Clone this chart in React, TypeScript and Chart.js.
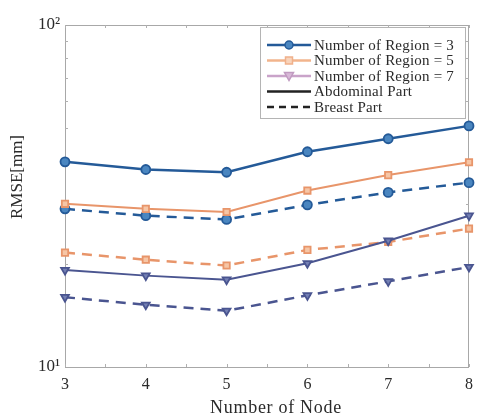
import React, { useEffect, useRef } from "react";
import { Chart, registerables } from "chart.js";

Chart.register(...registerables);

// ---- data ----
const nodeCounts = [3, 4, 5, 6, 7, 8];
const region3Abdominal = [39.8, 37.8, 37.1, 42.6, 46.5, 50.7];
const region3Breast = [29.0, 27.7, 27.0, 29.8, 32.4, 34.6];
const region5Abdominal = [30.0, 29.0, 28.4, 32.8, 36.4, 39.7];
const region5Breast = [21.6, 20.6, 19.8, 22.0, 23.2, 25.4];
const region7Abdominal = [19.2, 18.5, 18.0, 20.1, 23.4, 27.7];
const region7Breast = [16.0, 15.2, 14.6, 16.2, 17.8, 19.6];

const legendLabels = [
  "Number of Region = 3",
  "Number of Region = 5",
  "Number of Region = 7",
  "Abdominal Part",
  "Breast Part",
];
const yMajorTicks = [10, 100];
const yTickLabels = ["10\u00B9", "10\u00B2"];
const yMinorTicks = [20, 30, 40, 50, 60, 70, 80, 90];
const xMinorTicks = [3.5, 4.5, 5.5, 6.5, 7.5];
const xTitle = "Number of Node";
const yTitle = "RMSE[mm]";

const FONT = "'Liberation Serif', 'Times New Roman', serif";

const C3 = "#245a98";
const C3fill = "#4a86c0";
const C5 = "#e8956a";
const C5fill = "#f6c6a6";
const C7 = "#4a5590";
const C7fill = "#7480b4";

const toXY = (vals: number[]) => vals.map((v, i) => ({ x: nodeCounts[i], y: v }));

const decorPlugin = {
  id: "decor",
  beforeDatasetsDraw(chart: any) {
    const { ctx, chartArea: a, scales } = chart;
    const xs = scales.x;
    const ys = scales.y;
    ctx.save();
    ctx.strokeStyle = "#a8a8a8";
    ctx.lineWidth = 1;
    ctx.strokeRect(a.left + 0.5, a.top + 0.5, a.right - a.left - 1, a.bottom - a.top);
    ctx.strokeStyle = "#b0b0b0";
    const tl = 3;
    xMinorTicks.concat(nodeCounts).forEach((v) => {
      const px = Math.round(xs.getPixelForValue(v)) + 0.5;
      ctx.beginPath();
      ctx.moveTo(px, a.bottom);
      ctx.lineTo(px, a.bottom - tl);
      ctx.moveTo(px, a.top);
      ctx.lineTo(px, a.top + tl);
      ctx.stroke();
    });
    yMinorTicks.forEach((v) => {
      const py = Math.round(ys.getPixelForValue(v)) + 0.5;
      ctx.beginPath();
      ctx.moveTo(a.left, py);
      ctx.lineTo(a.left + tl, py);
      ctx.moveTo(a.right, py);
      ctx.lineTo(a.right - tl, py);
      ctx.stroke();
    });
    // axis titles
    ctx.fillStyle = "#2a2a2a";
    ctx.font = `18px ${FONT}`;
    (ctx as any).letterSpacing = "0.7px";
    ctx.textAlign = "center";
    ctx.textBaseline = "alphabetic";
    ctx.fillText(xTitle, 276, 413);
    (ctx as any).letterSpacing = "0px";
    ctx.save();
    ctx.translate(18, 177);
    ctx.rotate(-Math.PI / 2);
    ctx.font = `17px ${FONT}`;
    ctx.textBaseline = "middle";
    ctx.fillText(yTitle, 0, 0);
    ctx.restore();
    ctx.restore();
  },
  afterDatasetsDraw(chart: any) {
    const { ctx } = chart;
    const bx = 260, by = 27, bw = 205, bh = 91;
    ctx.save();
    ctx.fillStyle = "#ffffff";
    ctx.fillRect(bx, by, bw, bh);
    ctx.strokeStyle = "#b4b4b4";
    ctx.lineWidth = 1;
    ctx.strokeRect(bx + 0.5, by + 0.5, bw, bh);
    const rowY = [45, 60.5, 76, 91.5, 107];
    const lineCols = [C3, "#f2b48c", "#c9a3c9", "#222222", "#222222"];
    const x0 = 267, x1 = 311, xm = 289;
    legendLabels.forEach((lab, i) => {
      const y = rowY[i];
      ctx.strokeStyle = lineCols[i];
      ctx.lineWidth = 2.5;
      ctx.setLineDash(i === 4 ? [7, 5] : []);
      ctx.beginPath();
      ctx.moveTo(x0, y);
      ctx.lineTo(x1, y);
      ctx.stroke();
      ctx.setLineDash([]);
      ctx.lineWidth = 1.5;
      if (i === 0) {
        ctx.fillStyle = C3fill;
        ctx.strokeStyle = C3;
        ctx.beginPath();
        ctx.arc(xm, y, 4, 0, Math.PI * 2);
        ctx.fill();
        ctx.stroke();
      } else if (i === 1) {
        ctx.fillStyle = "#f8d4bc";
        ctx.strokeStyle = "#f0b08a";
        ctx.fillRect(xm - 3.5, y - 3.5, 7, 7);
        ctx.strokeRect(xm - 3.5, y - 3.5, 7, 7);
      } else if (i === 2) {
        ctx.fillStyle = "#d8b8d8";
        ctx.strokeStyle = "#c09ac0";
        ctx.beginPath();
        ctx.moveTo(xm - 4.5, y - 3.5);
        ctx.lineTo(xm + 4.5, y - 3.5);
        ctx.lineTo(xm, y + 4.5);
        ctx.closePath();
        ctx.fill();
        ctx.stroke();
      }
      ctx.fillStyle = "#2a2a2a";
      ctx.font = `15px ${FONT}`;
      (ctx as any).letterSpacing = "0.2px";
      ctx.textAlign = "left";
      ctx.textBaseline = "middle";
      ctx.fillText(lab, 314, y + 1);
    });
    ctx.restore();
  },
};

export default function App() {
  const ref = useRef<HTMLCanvasElement | null>(null);
  useEffect(() => {
    if (!ref.current) return;
    const mk = (
      label: string,
      vals: number[],
      color: string,
      fill: string,
      style: string,
      dashed: boolean,
      width: number
    ) => ({
      label,
      data: toXY(vals),
      borderColor: color,
      backgroundColor: fill,
      borderWidth: width,
      borderDash: dashed ? [10, 7] : [],
      pointStyle: style,
      pointRotation: style === "triangle" ? 180 : 0,
      pointRadius: 4.5,
      pointBorderWidth: 1.8,
      pointBorderColor: color,
      pointBackgroundColor: fill,
      tension: 0,
      clip: false as any,
    });
    const chart = new Chart(ref.current, {
      type: "line",
      data: {
        datasets: [
          mk("Region 7 Breast", region7Breast, C7, C7fill, "triangle", true, 2.5),
          mk("Region 7 Abdominal", region7Abdominal, C7, C7fill, "triangle", false, 2),
          mk("Region 5 Breast", region5Breast, C5, C5fill, "rect", true, 2.5),
          mk("Region 5 Abdominal", region5Abdominal, C5, C5fill, "rect", false, 2),
          mk("Region 3 Breast", region3Breast, C3, C3fill, "circle", true, 2.5),
          mk("Region 3 Abdominal", region3Abdominal, C3, C3fill, "circle", false, 2.5),
        ],
      },
      options: {
        animation: false,
        responsive: false,
        devicePixelRatio: 1,
        layout: { padding: { top: 25, right: 7, left: 0, bottom: 0 } },
        plugins: { legend: { display: false }, tooltip: { enabled: false } },
        scales: {
          x: {
            type: "linear",
            min: 3,
            max: 8,
            grid: { display: false, drawTicks: false },
            border: { display: false },
            ticks: {
              stepSize: 1,
              padding: 8,
              color: "#2a2a2a",
              font: { family: FONT, size: 16 },
            },
            afterFit: (s: any) => {
              s.height = 46;
            },
          },
          y: {
            type: "logarithmic",
            min: 10,
            max: 100,
            grid: { display: false, drawTicks: false },
            border: { display: false },
            afterBuildTicks: (s: any) => {
              s.ticks = yMajorTicks.map((v) => ({ value: v, major: true }));
            },
            ticks: {
              padding: 5,
              color: "#2a2a2a",
              font: { family: FONT, size: 17 },
              callback: (v: any) => {
                const i = yMajorTicks.indexOf(Number(v));
                return i >= 0 ? yTickLabels[i] : "";
              },
            },
            afterFit: (s: any) => {
              s.width = 65;
            },
          },
        },
      },
      plugins: [decorPlugin],
    });
    return () => chart.destroy();
  }, []);
  return (
    <div style={{ position: "fixed", left: 0, top: 0, width: 481, height: 413, background: "#fff" }}>
      <canvas ref={ref} width={481} height={413} />
    </div>
  );
}
